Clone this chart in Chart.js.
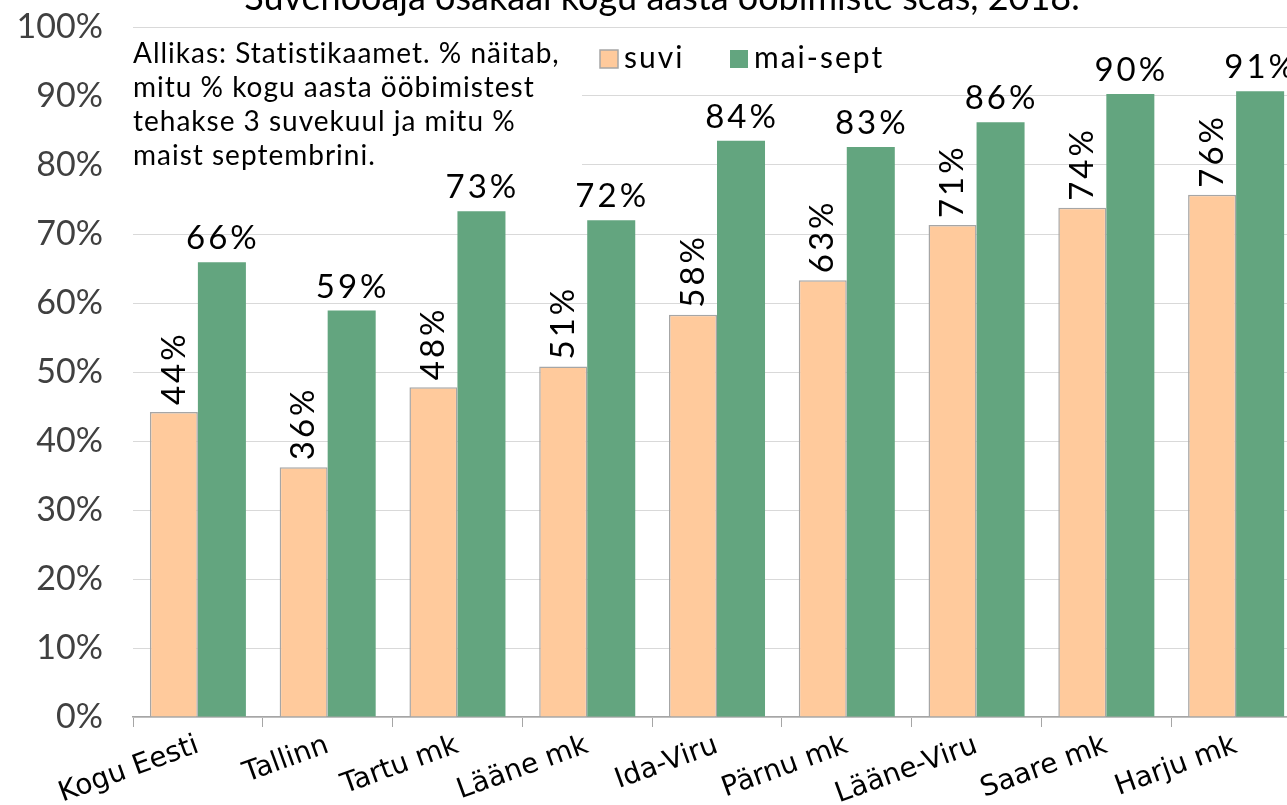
<!DOCTYPE html>
<html>
<head>
<meta charset="utf-8">
<script src="https://cdn.jsdelivr.net/npm/chart.js@4"></script>
<style>
    html, body { margin: 0; padding: 0; background: #fff; overflow: hidden; }
    #wrap { position: absolute; left: 0; top: -30px; width: 1302px; height: 835px; }
</style>
</head>
<body>
<div id="wrap"><canvas id="myChart"></canvas></div>
<script>
const regions = ["Kogu Eesti", "Tallinn", "Tartu mk", "Lääne mk", "Ida-Viru", "Pärnu mk", "Lääne-Viru", "Saare mk", "Harju mk"];
const suvi = [44.2, 36.2, 47.8, 50.8, 58.3, 63.3, 71.3, 73.8, 75.7];
const maiSept = [65.9, 58.9, 73.3, 72.0, 83.5, 82.6, 86.2, 90.3, 90.7];
const seriesNames = ["suvi", "mai-sept"];
const titleText = "Suvehooaja osakaal kogu aasta ööbimiste seas, 2018.";
const noteLines = [
    "Allikas: Statistikaamet. % näitab,",
    "mitu % kogu aasta ööbimistest",
    "tehakse 3 suvekuul ja mitu %",
    "maist septembrini."
];

const orange = "#ffca9c";
const green = "#63a57f";

// title, note box, legend and value labels
const overlay = {
    id: "overlay",
    afterDatasetsDraw(chart) {
        const ctx = chart.ctx;
        ctx.save();

        ctx.fillStyle = "#000";
        ctx.font = "36px Lato";
        ctx.letterSpacing = "0px";
        ctx.textAlign = "center";
        ctx.textBaseline = "alphabetic";
        ctx.fillText(titleText, 662, 40);

        ctx.fillStyle = "#fff";
        ctx.fillRect(133, 63, 449, 140);
        ctx.fillStyle = "#000";
        ctx.font = "28px Lato";
        ctx.letterSpacing = "1px";
        ctx.textAlign = "left";
        noteLines.forEach((line, i) => {
            ctx.fillText(line, 133, 93 + i * 34);
        });

        ctx.font = "30px Lato";
        ctx.letterSpacing = "2px";
        ctx.fillStyle = orange;
        ctx.fillRect(600, 80, 18, 18);
        ctx.strokeStyle = "#a6a6a6";
        ctx.lineWidth = 1.5;
        ctx.strokeRect(600, 80, 18, 18);
        ctx.fillStyle = "#000";
        ctx.fillText(seriesNames[0], 624, 98);
        ctx.fillStyle = green;
        ctx.fillRect(730, 80, 18, 18);
        ctx.fillStyle = "#000";
        ctx.fillText(seriesNames[1], 754, 98);

        ctx.font = "33px Lato";
        ctx.letterSpacing = "3px";
        chart.getDatasetMeta(0).data.forEach((bar, i) => {
            ctx.save();
            ctx.translate(bar.x, bar.y - 7);
            ctx.rotate(-Math.PI / 2);
            ctx.textAlign = "left";
            ctx.textBaseline = "middle";
            ctx.fillText(Math.round(suvi[i]) + "%", 0, 0);
            ctx.restore();
        });
        ctx.textAlign = "center";
        ctx.textBaseline = "alphabetic";
        chart.getDatasetMeta(1).data.forEach((bar, i) => {
            ctx.fillText(Math.round(maiSept[i]) + "%", bar.x + 1, bar.y - 13);
        });

        ctx.letterSpacing = "0px";
        ctx.restore();
    }
};

const ctx = document.getElementById("myChart").getContext("2d");
new Chart(ctx, {
    type: "bar",
    data: {
        labels: regions,
        datasets: [
            {
                label: seriesNames[0],
                data: suvi,
                backgroundColor: orange,
                borderColor: "#a6a6a6",
                borderWidth: 1.5,
                barPercentage: 1,
                categoryPercentage: 0.74
            },
            {
                label: seriesNames[1],
                data: maiSept,
                backgroundColor: green,
                borderWidth: 0,
                barPercentage: 1,
                categoryPercentage: 0.74
            }
        ]
    },
    options: {
        responsive: true,
        maintainAspectRatio: false,
        animation: false,
        layout: { padding: { top: 57, right: 1, bottom: 0, left: 0 } },
        plugins: {
            legend: { display: false },
            tooltip: { enabled: false }
        },
        scales: {
            x: {
                grid: { offset: true, drawOnChartArea: false, drawTicks: true, tickLength: 10, color: "#a6a6a6" },
                border: { color: "#a6a6a6", width: 1.5 },
                ticks: {
                    font: { family: "DejaVu Sans", size: 28 },
                    color: "#000",
                    minRotation: 20,
                    maxRotation: 20,
                    padding: 2
                },
                afterFit: scale => { scale.height = 88; }
            },
            y: {
                min: 0,
                max: 100,
                grid: { color: "#d9d9d9", drawTicks: false },
                border: { display: false },
                ticks: {
                    stepSize: 10,
                    font: { family: "Lato", size: 34 },
                    color: "#404040",
                    padding: 30,
                    callback: v => v + "%"
                },
                afterFit: scale => { scale.width = 133; }
            }
        }
    },
    plugins: [overlay]
});
</script>
</body>
</html>
